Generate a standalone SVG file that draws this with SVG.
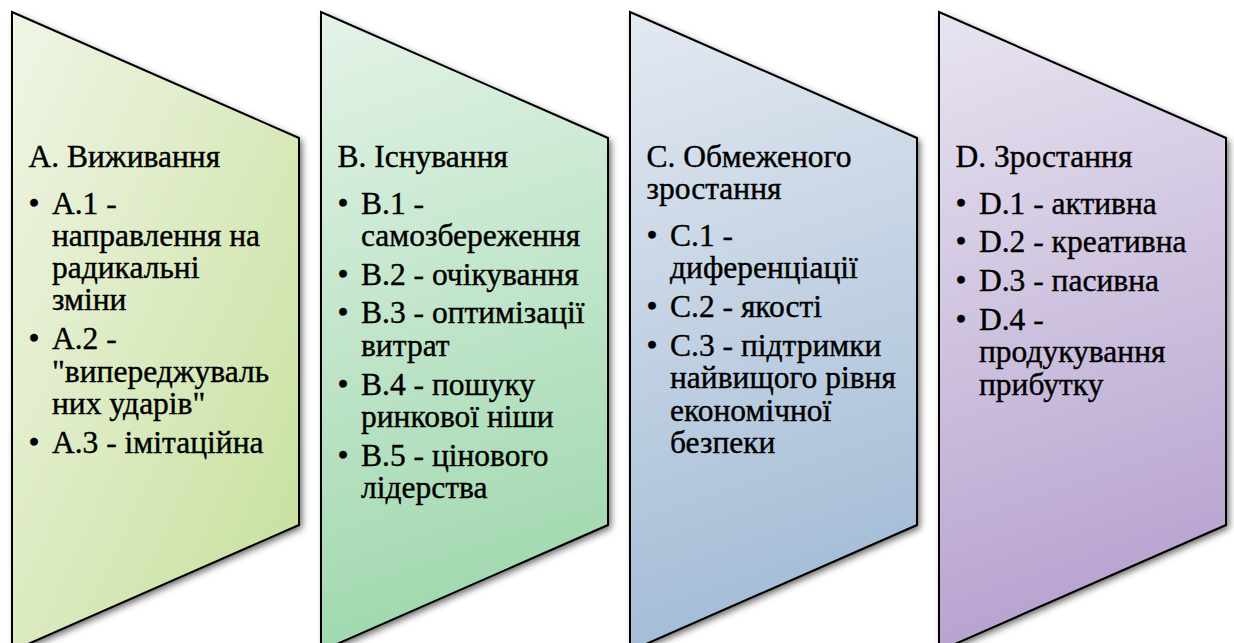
<svg xmlns="http://www.w3.org/2000/svg" width="1234" height="643" viewBox="0 0 1234 643">
  <defs>
    <linearGradient id="gA" x1="0" y1="0" x2="1" y2="1">
      <stop offset="0" stop-color="#f0f5e6"/>
      <stop offset="1" stop-color="#c6df9a"/>
    </linearGradient>
    <linearGradient id="gB" x1="0" y1="0" x2="0.15" y2="1">
      <stop offset="0" stop-color="#e4f3e8"/>
      <stop offset="1" stop-color="#a0d8ae"/>
    </linearGradient>
    <linearGradient id="gC" x1="0" y1="0" x2="0.15" y2="1">
      <stop offset="0" stop-color="#e4e9f1"/>
      <stop offset="1" stop-color="#a3bcd6"/>
    </linearGradient>
    <linearGradient id="gD" x1="0" y1="0" x2="0.15" y2="1">
      <stop offset="0" stop-color="#e8e4f0"/>
      <stop offset="1" stop-color="#b7a2cf"/>
    </linearGradient>
    <filter id="blur" x="-10%" y="-10%" width="125%" height="125%">
      <feGaussianBlur stdDeviation="3.5"/>
    </filter>
  </defs>
  <style>
    .shadow { fill: #000000; fill-opacity: 0.6; }
    .shape { stroke: #000000; stroke-width: 2px; }
    .lbl { font-family: "Liberation Serif", "Times New Roman", serif; font-size: 31.5px; fill: #000000; stroke: #000000; stroke-width: 0.4px; }
  </style>
  <rect width="1234" height="643" fill="#ffffff"/>

  <g id="node-A">
    <polygon class="shadow" filter="url(#blur)" transform="translate(3,3)" points="12,12 299,138 299,525 12,651"/>
    <polygon class="shape" fill="url(#gA)" points="12,12 299,138 299,525 12,651"/>
    <g class="lbl">
      <text x="28.5" y="166.5">А. Виживання</text>
      <text x="28.5" y="213.5">•</text><text x="52" y="213.5">А.1 -</text>
      <text x="52" y="245.8">направлення на</text>
      <text x="52" y="278.1">радикальні</text>
      <text x="52" y="310.4">зміни</text>
      <text x="28.5" y="349.2">•</text><text x="52" y="349.2">А.2 -</text>
      <text x="52" y="381.5">"випереджуваль</text>
      <text x="52" y="413.8">них ударів"</text>
      <text x="28.5" y="452.6">•</text><text x="52" y="452.6">А.3 - імітаційна</text>
    </g>
  </g>

  <g id="node-B">
    <polygon class="shadow" filter="url(#blur)" transform="translate(3,3)" points="321,12 608,138 608,525 321,651"/>
    <polygon class="shape" fill="url(#gB)" points="321,12 608,138 608,525 321,651"/>
    <g class="lbl">
      <text x="337.5" y="166.5">В. Існування</text>
      <text x="337.5" y="213.5">•</text><text x="361" y="213.5">В.1 -</text>
      <text x="361" y="245.8">самозбереження</text>
      <text x="337.5" y="284.6">•</text><text x="361" y="284.6">В.2 - очікування</text>
      <text x="337.5" y="323.4">•</text><text x="361" y="323.4">В.3 - оптимізації</text>
      <text x="361" y="355.7">витрат</text>
      <text x="337.5" y="394.5">•</text><text x="361" y="394.5">В.4 - пошуку</text>
      <text x="361" y="426.8">ринкової ніши</text>
      <text x="337.5" y="465.6">•</text><text x="361" y="465.6">В.5 - цінового</text>
      <text x="361" y="497.9">лідерства</text>
    </g>
  </g>

  <g id="node-C">
    <polygon class="shadow" filter="url(#blur)" transform="translate(3,3)" points="630,12 917,138 917,525 630,651"/>
    <polygon class="shape" fill="url(#gC)" points="630,12 917,138 917,525 630,651"/>
    <g class="lbl">
      <text x="646.5" y="166.5">С. Обмеженого</text>
      <text x="646.5" y="198.8">зростання</text>
      <text x="646.5" y="246">•</text><text x="670" y="246">С.1 -</text>
      <text x="670" y="278.3">диференціації</text>
      <text x="646.5" y="317.1">•</text><text x="670" y="317.1">С.2 - якості</text>
      <text x="646.5" y="355.9">•</text><text x="670" y="355.9">С.3 - підтримки</text>
      <text x="670" y="388.2">найвищого рівня</text>
      <text x="670" y="420.5">економічної</text>
      <text x="670" y="452.8">безпеки</text>
    </g>
  </g>

  <g id="node-D">
    <polygon class="shadow" filter="url(#blur)" transform="translate(3,3)" points="939,12 1226,138 1226,525 939,651"/>
    <polygon class="shape" fill="url(#gD)" points="939,12 1226,138 1226,525 939,651"/>
    <g class="lbl">
      <text x="955.5" y="166.5">D. Зростання</text>
      <text x="955.5" y="213.5">•</text><text x="979" y="213.5">D.1 - активна</text>
      <text x="955.5" y="252.3">•</text><text x="979" y="252.3">D.2 - креативна</text>
      <text x="955.5" y="291.1">•</text><text x="979" y="291.1">D.3 - пасивна</text>
      <text x="955.5" y="329.9">•</text><text x="979" y="329.9">D.4 -</text>
      <text x="979" y="362.2">продукування</text>
      <text x="979" y="394.5">прибутку</text>
    </g>
  </g>
</svg>
